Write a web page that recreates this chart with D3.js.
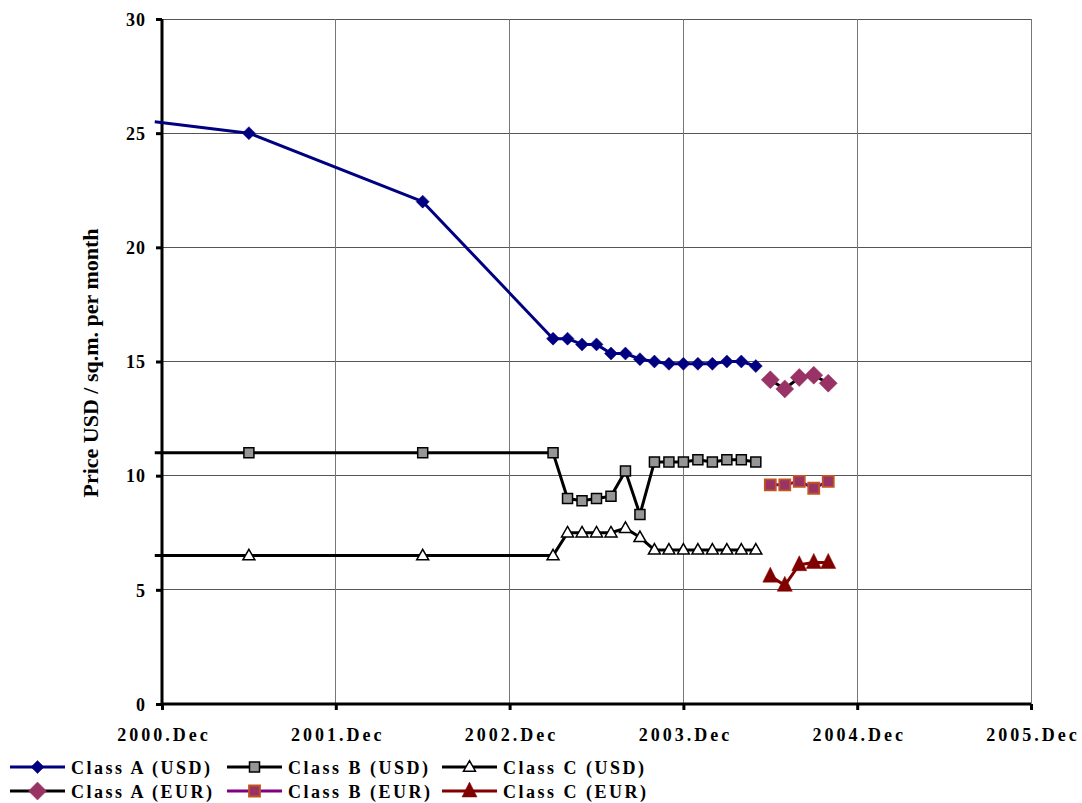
<!DOCTYPE html>
<html><head><meta charset="utf-8">
<script src="https://cdn.jsdelivr.net/npm/d3@7"></script>
<style>
body{margin:0;background:#fff;}
text{font-family:"Liberation Serif","Times New Roman",serif;font-weight:bold;}
</style></head>
<body><svg id="c" width="1082" height="803"></svg>
<script>
// months counted from Dec 2000
const xTickMonths = [0,12,24,36,48,60];
const xTickLabels = ["2000.Dec","2001.Dec","2002.Dec","2003.Dec","2004.Dec","2005.Dec"];
const yTicks = [0,5,10,15,20,25,30];

const usdMonths = [-0.5,6,18,27,28,29,30,31,32,33,34,35,36,37,38,39,40,41];
const classA_USD = [25.5,25.0,22.0,16.0,16.0,15.75,15.75,15.35,15.35,15.1,15.0,14.9,14.9,14.9,14.9,15.0,15.0,14.8];
const classB_USD = [11.0,11.0,11.0,11.0,9.0,8.9,9.0,9.1,10.2,8.3,10.6,10.6,10.6,10.7,10.6,10.7,10.7,10.6];
const classC_USD = [6.5,6.5,6.5,6.5,7.5,7.5,7.5,7.5,7.7,7.3,6.75,6.75,6.75,6.75,6.75,6.75,6.75,6.75];

const eurMonths = [42,43,44,45,46];
const classA_EUR = [14.2,13.8,14.3,14.4,14.05];
const classB_EUR = [9.6,9.6,9.75,9.45,9.75];
const classC_EUR = [5.6,5.2,6.1,6.2,6.2];

const seriesNames = ["Class A (USD)","Class B (USD)","Class C (USD)","Class A (EUR)","Class B (EUR)","Class C (EUR)"];

const svg = d3.select("#c");
const x = d3.scaleLinear().domain([0,60]).range([162,1031]);
const y = d3.scaleLinear().domain([0,30]).range([704,19]);

// gridlines
svg.append("g").selectAll("line").data(yTicks.filter(d=>d>0)).join("line")
  .attr("x1",x(0)).attr("x2",x(60)).attr("y1",d=>y(d)).attr("y2",d=>y(d))
  .attr("stroke","#555").attr("stroke-width",1).attr("shape-rendering","crispEdges");
svg.append("g").selectAll("line").data(xTickMonths.filter(d=>d>0)).join("line")
  .attr("x1",d=>x(d)).attr("x2",d=>x(d)).attr("y1",y(0)).attr("y2",y(30))
  .attr("stroke","#777").attr("stroke-width",1).attr("shape-rendering","crispEdges");

// axes
const yAxis = svg.append("g").attr("transform",`translate(${x(0)},0)`)
  .call(d3.axisLeft(y).tickValues(yTicks).tickSize(6).tickPadding(10).tickFormat(d3.format("d")));
const xAxis = svg.append("g").attr("transform",`translate(0,${y(0)})`)
  .call(d3.axisBottom(x).tickValues(xTickMonths).tickSize(6).tickPadding(18).tickFormat((d,i)=>xTickLabels[i]));
[yAxis,xAxis].forEach(a=>{
  a.select(".domain").attr("stroke","#000").attr("stroke-width",3);
  a.selectAll(".tick line").attr("stroke","#000").attr("stroke-width",3);
  a.selectAll("text").attr("fill","#000").style("font-size","18px").style("font-family","Liberation Serif").style("font-weight","bold");
});
yAxis.select(".domain").attr("d",`M0,${y(30)}V${y(0)}`);
xAxis.select(".domain").attr("d",`M${x(0)},0H${x(60)}`);
yAxis.selectAll("text").attr("dy","0.35em").style("letter-spacing","1px");
xAxis.selectAll("text").attr("dy","0.71em").style("letter-spacing","3px").attr("dx","1.5px");

// y title
svg.append("text").attr("transform","translate(98,363) rotate(-90)")
  .attr("text-anchor","middle").style("font-size","22px").text("Price USD / sq.m. per month");

// marker shapes
function diamond(r){return `M0,${-r}L${r},0L0,${r}L${-r},0Z`;}
function square(s){const h=s/2;return `M${-h},${-h}H${h}V${h}H${-h}Z`;}
function tri(w,h){return `M0,${-h*0.6}L${w/2},${h*0.4}L${-w/2},${h*0.4}Z`;}

const styles = [
  {months:usdMonths, vals:classA_USD, line:"#000080", path:diamond(6.5), fill:"#000080", stroke:"#000080", sw:0.5},
  {months:usdMonths, vals:classB_USD, line:"#000", path:square(10), fill:"#969696", stroke:"#000", sw:1.5},
  {months:usdMonths, vals:classC_USD, line:"#000", path:tri(12,10.5), fill:"#fff", stroke:"#000", sw:1.5},
  {months:eurMonths, vals:classA_EUR, line:"#000", path:diamond(9), fill:"#993366", stroke:"#993366", sw:0.5},
  {months:eurMonths, vals:classB_EUR, line:"#800080", path:square(11), fill:"#993366", stroke:"#C0561E", sw:1.8},
  {months:eurMonths, vals:classC_EUR, line:"#800000", path:tri(15,15), fill:"#800000", stroke:"#800000", sw:0.5}
];

const lineGen = d3.line().x(d=>x(d[0])).y(d=>y(d[1]));
styles.forEach(s=>{
  const pts = s.months.map((m,i)=>[m,s.vals[i]]);
  svg.append("path").datum(pts).attr("d",lineGen).attr("fill","none")
    .attr("stroke",s.line).attr("stroke-width",3).attr("stroke-linejoin","round");
});
styles.forEach(s=>{
  const pts = s.months.map((m,i)=>[m,s.vals[i]]).filter(p=>p[0]>=0);
  svg.append("g").selectAll("path").data(pts).join("path")
    .attr("transform",d=>`translate(${x(d[0])},${y(d[1])})`)
    .attr("d",s.path).attr("fill",s.fill).attr("stroke",s.stroke).attr("stroke-width",s.sw);
});

// legend
const colX = [10,227,442];
const rowY = [767,791];
styles.forEach((s,i)=>{
  const cx = colX[i%3], cy = rowY[Math.floor(i/3)];
  const g = svg.append("g").attr("transform",`translate(${cx},${cy})`);
  g.append("line").attr("x1",0).attr("x2",55).attr("y1",0).attr("y2",0)
    .attr("stroke",s.line).attr("stroke-width",3);
  g.append("path").attr("transform","translate(27.5,0)").attr("d",s.path)
    .attr("fill",s.fill).attr("stroke",s.stroke).attr("stroke-width",s.sw);
  g.append("text").attr("x",61).attr("y",7).style("font-size","18px")
    .style("letter-spacing","2.5px").text(seriesNames[i]);
});
</script></body></html>
